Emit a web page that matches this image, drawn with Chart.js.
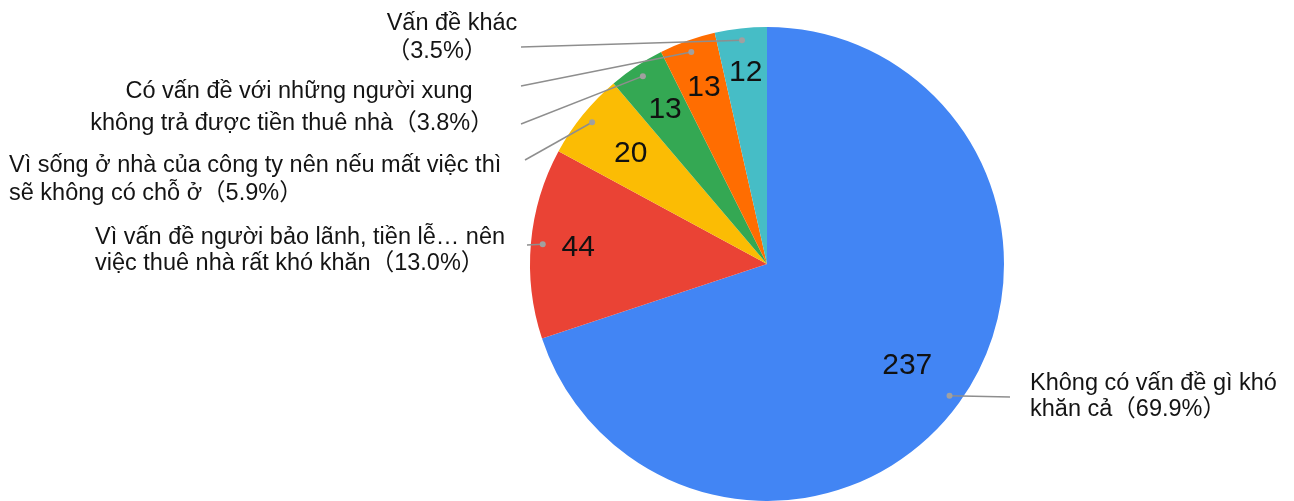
<!DOCTYPE html>
<html>
<head>
<meta charset="utf-8">
<title>Pie</title>
<script src="https://cdn.jsdelivr.net/npm/chart.js@4/dist/chart.umd.min.js"></script>
<style>
  html, body { margin: 0; padding: 0; background: #fff; }
  #wrap { width: 1294px; height: 501px; }
</style>
</head>
<body>
<div id="wrap"><canvas id="pieChart" width="1294" height="501"></canvas></div>
<script>
// dados (sentido horário a partir do topo)
const categories = [
  'Không có vấn đề gì khó khăn cả',
  'Vì vấn đề người bảo lãnh, tiền lễ… nên việc thuê nhà rất khó khăn',
  'Vì sống ở nhà của công ty nên nếu mất việc thì sẽ không có chỗ ở',
  'không trả được tiền thuê nhà',
  'Có vấn đề với những người xung',
  'Vấn đề khác'
];
const counts = [237, 44, 20, 13, 13, 12];
const colors = ['#4285f4', '#ea4335', '#fbbc04', '#34a853', '#ff6d01', '#46bdc6'];
const labelLines = [
  ['Không có vấn đề gì khó', 'khăn cả（69.9%）'],
  ['Vì vấn đề người bảo lãnh, tiền lễ… nên', 'việc thuê nhà rất khó khăn（13.0%）'],
  ['Vì sống ở nhà của công ty nên nếu mất việc thì', 'sẽ không có chỗ ở（5.9%）'],
  ['không trả được tiền thuê nhà（3.8%）'],
  ['Có vấn đề với những người xung'],
  ['Vấn đề khác', '（3.5%）']
];

// onde fica cada bloco de texto e onde a linha guia termina
const labelLayout = [
  { xs: [1030, 1030], ys: [384, 410], align: 'left', end: [1010, 397] },
  { xs: [95, 95], ys: [238, 264], align: 'left', end: [527, 245] },
  { xs: [9, 9], ys: [166, 194], align: 'left', end: [525, 160] },
  { xs: [292], ys: [124], align: 'center', end: [521, 124] },
  { xs: [299], ys: [92], align: 'center', end: [521, 86] },
  { xs: [452, 437], ys: [24, 52], align: 'center', end: [521, 47] }
];
const valueRadius = [0.73, 0.8, 0.74, 0.78, 0.79, 0.81];

const labelFont = '23.5px "Liberation Sans", Arial, "Noto Sans CJK JP", sans-serif';

const pieLabels = {
  id: 'pieLabels',
  afterDatasetsDraw(chart) {
    const { ctx } = chart;
    const arcs = chart.getDatasetMeta(0).data;
    ctx.save();
    arcs.forEach((arc, i) => {
      const p = arc.getProps(['x', 'y', 'startAngle', 'endAngle', 'outerRadius'], true);
      const mid = (p.startAngle + p.endAngle) / 2;
      const cos = Math.cos(mid), sin = Math.sin(mid);

      // valor dentro da fatia
      ctx.fillStyle = '#111';
      ctx.font = '30px "Liberation Sans", Arial, sans-serif';
      ctx.textAlign = 'center';
      ctx.textBaseline = 'middle';
      const vr = p.outerRadius * valueRadius[i];
      ctx.fillText(String(counts[i]), p.x + cos * vr, p.y + sin * vr);

      // linha guia + ponto
      const dr = p.outerRadius * 0.95;
      const dx = p.x + cos * dr, dy = p.y + sin * dr;
      const lay = labelLayout[i];
      ctx.strokeStyle = '#8e8e8e';
      ctx.lineWidth = 1.5;
      ctx.beginPath();
      ctx.moveTo(dx, dy);
      ctx.lineTo(lay.end[0], lay.end[1]);
      ctx.stroke();
      ctx.fillStyle = '#a0a0a0';
      ctx.beginPath();
      ctx.arc(dx, dy, 3, 0, Math.PI * 2);
      ctx.fill();

      // texto do rótulo
      ctx.fillStyle = '#141414';
      ctx.font = labelFont;
      ctx.textAlign = lay.align;
      labelLines[i].forEach((t, k) => ctx.fillText(t, lay.xs[k], lay.ys[k]));
    });
    ctx.restore();
  }
};

new Chart(document.getElementById('pieChart'), {
  type: 'pie',
  data: {
    labels: categories,
    datasets: [{
      data: counts,
      backgroundColor: colors,
      borderWidth: 0
    }]
  },
  options: {
    responsive: false,
    animation: false,
    devicePixelRatio: 1,
    layout: { padding: { left: 530, right: 290, top: 27, bottom: 0 } },
    plugins: {
      legend: { display: false },
      tooltip: { enabled: false }
    }
  },
  plugins: [pieLabels]
});
</script>
</body>
</html>
